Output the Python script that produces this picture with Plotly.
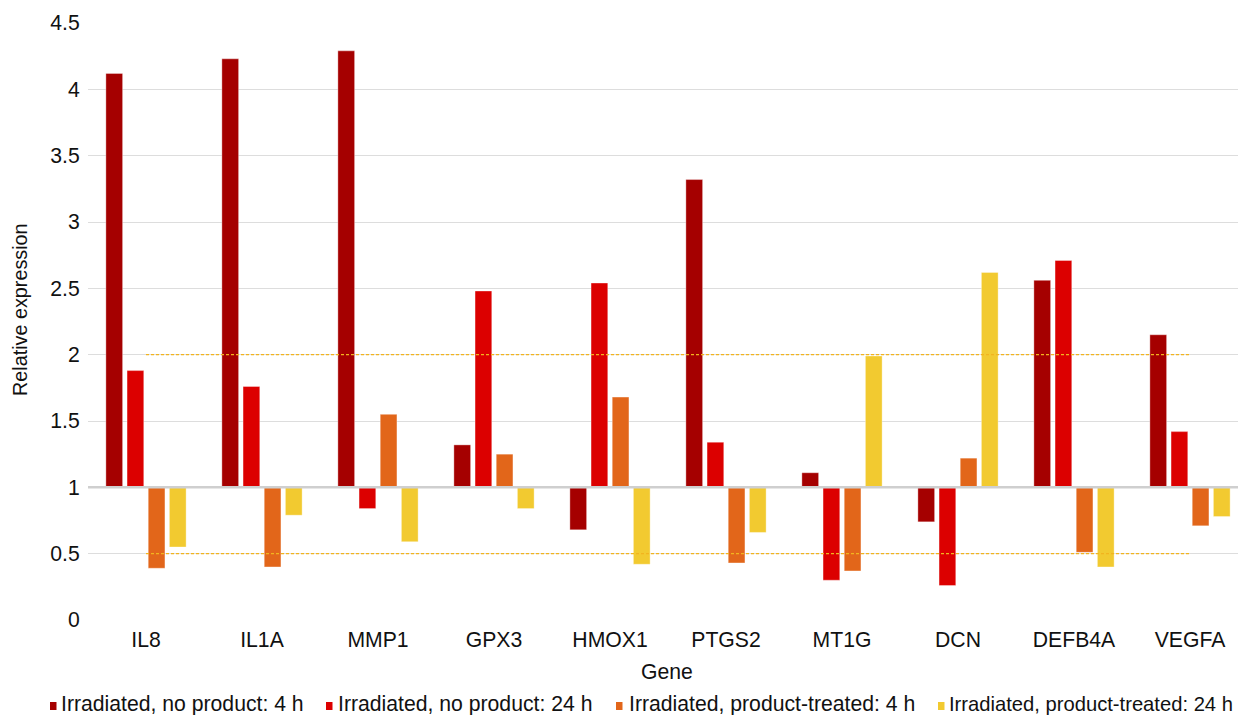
import plotly.graph_objects as go

genes = ["IL8", "IL1A", "MMP1", "GPX3", "HMOX1", "PTGS2", "MT1G", "DCN", "DEFB4A", "VEGFA"]
series_names = [
    "Irradiated, no product: 4 h",
    "Irradiated, no product: 24 h",
    "Irradiated, product-treated: 4 h",
    "Irradiated, product-treated: 24 h",
]
no_product_4h = [4.12, 4.23, 4.29, 1.32, 0.68, 3.32, 1.11, 0.74, 2.56, 2.15]
no_product_24h = [1.88, 1.76, 0.84, 2.48, 2.54, 1.34, 0.30, 0.26, 2.71, 1.42]
treated_4h = [0.39, 0.40, 1.55, 1.25, 1.68, 0.43, 0.37, 1.22, 0.51, 0.71]
treated_24h = [0.55, 0.79, 0.59, 0.84, 0.42, 0.66, 1.99, 2.62, 0.40, 0.78]
baseline = 1.0
thresholds = [2.0, 0.5]
y_ticks = [0, 0.5, 1, 1.5, 2, 2.5, 3, 3.5, 4, 4.5]

colors = ["#A50000", "#DC0000", "#E2661A", "#F2CA30"]
series_values = [no_product_4h, no_product_24h, treated_4h, treated_24h]

W, H = 1238, 715
L, R, T, B = 88, 0, 23, 95
PW, PH = W - L - R, H - T - B


def px(xp):
    return (xp - L) / PW


def py(yp):
    return (H - B - yp) / PH


FONT = "Liberation Sans, Arial, Helvetica, sans-serif"
FS = 21.2

fig = go.Figure()
for name, vals, col in zip(series_names, series_values, colors):
    fig.add_trace(go.Bar(
        x=genes,
        y=[v - baseline for v in vals],
        base=baseline,
        name=name,
        marker=dict(color=col, line=dict(color="rgba(255,255,255,0.35)", width=1)),
        showlegend=False,
        customdata=vals,
        hovertemplate="%{x}: %{customdata}<extra>" + name + "</extra>",
    ))

for th in thresholds:
    fig.add_trace(go.Scatter(
        x=[genes[0], genes[-1]],
        y=[th, th],
        mode="lines",
        line=dict(color="#F2B41E", width=1.2, dash="3px,2px"),
        showlegend=False,
        hoverinfo="skip",
    ))

shapes = [
    dict(type="line", xref="paper", yref="y", x0=0, x1=1, y0=baseline, y1=baseline,
         line=dict(color="#CFCFCF", width=2.5), layer="above"),
]

annotations = [
    dict(text="Relative expression", xref="paper", yref="paper", x=px(20), y=py(310),
         textangle=-90, showarrow=False, font=dict(size=19.8, color="#111111", family=FONT),
         xanchor="center", yanchor="middle"),
    dict(text="Gene", xref="paper", yref="paper", x=px(667), y=py(671),
         showarrow=False, font=dict(size=FS, color="#111111", family=FONT),
         xanchor="center", yanchor="middle"),
]

legend_marker_x = [50, 326, 616, 938]
legend_text_x = [59, 336, 627, 947]
legend_font = [FS, FS, FS, 20.2]
for name, col, mx, tx, fs in zip(series_names, colors, legend_marker_x, legend_text_x, legend_font):
    shapes.append(dict(type="rect", xref="paper", yref="paper",
                       x0=px(mx), x1=px(mx + 6.5), y0=py(710), y1=py(702),
                       fillcolor=col, line=dict(width=0)))
    annotations.append(dict(text=name, xref="paper", yref="paper", x=px(tx), y=py(704),
                            showarrow=False, xanchor="left", yanchor="middle",
                            font=dict(size=fs, color="#111111", family=FONT)))

fig.update_layout(
    width=W, height=H,
    margin=dict(l=L, r=R, t=T, b=B, pad=0),
    paper_bgcolor="white", plot_bgcolor="white",
    barmode="group", bargap=0.27, bargroupgap=0.21,
    font=dict(family=FONT, size=FS, color="#111111"),
    shapes=shapes, annotations=annotations,
    showlegend=False,
    xaxis=dict(range=[-0.5, -0.5 + PW / 116.0], showgrid=False, zeroline=False,
               showline=False, ticks="outside", ticklen=1, tickcolor="rgba(0,0,0,0)",
               tickfont=dict(size=FS, color="#111111")),
    yaxis=dict(range=[0, 4.5], tickvals=y_ticks, ticktext=[f"{v:g}" for v in y_ticks],
               showgrid=True, gridcolor="#DDDDDD", gridwidth=1.2, zeroline=False,
               showline=False, ticks="outside", ticklen=3, tickcolor="rgba(0,0,0,0)",
               tickfont=dict(size=FS, color="#111111")),
)

fig.write_html(
    "out.html",
    config={"displayModeBar": False},
    post_script="document.body.style.margin='0';document.body.style.overflow='hidden';",
)
